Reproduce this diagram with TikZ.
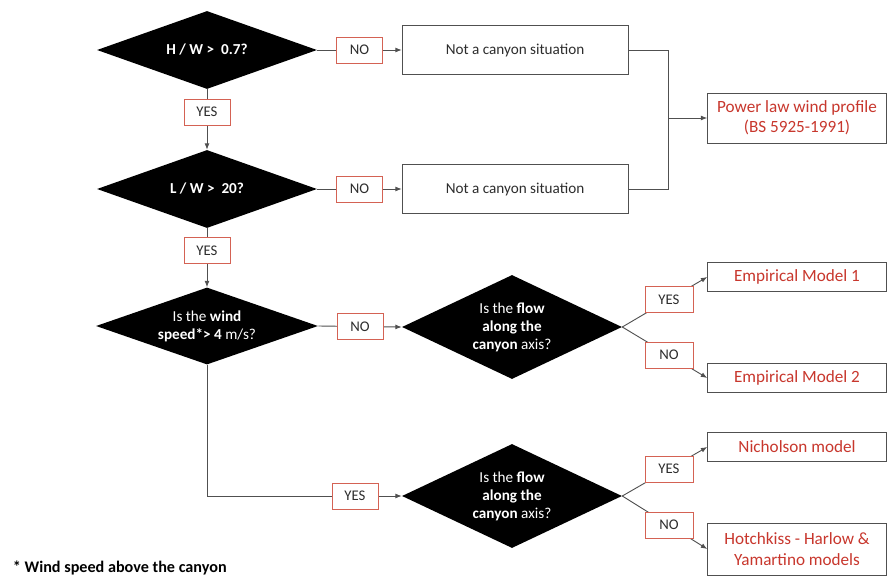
\documentclass[tikz,border=0pt]{standalone}
\usepackage{fontspec}
\setmainfont{Carlito}
\usepackage{tikz}
\usetikzlibrary{shapes.geometric}
\usetikzlibrary{arrows.meta}
\definecolor{modelred}{RGB}{200,55,45}
\definecolor{lblred}{RGB}{212,98,84}
\definecolor{boxgray}{RGB}{80,80,80}
\definecolor{txtgray}{RGB}{45,45,45}
\newdimen\pxu
\pxu=0.025cm

\begin{document}
\begin{tikzpicture}[x=0.025cm, y=-0.025cm,
    decide/.style={diamond, fill=black, text=white, aspect=2.2, inner sep=0pt, align=center,
        minimum width=220\pxu, minimum height=78\pxu, font=\fontsize{10.8}{12.8}\selectfont},
    canyonbox/.style={draw=boxgray, rectangle, fill=white, text=txtgray, align=center,
        minimum width=226\pxu, minimum height=49\pxu, font=\fontsize{10.8}{13}\selectfont},
    result/.style={draw=boxgray, rectangle, fill=white, text=modelred, align=center, inner sep=0pt,
        minimum width=179\pxu, minimum height=29\pxu, font=\fontsize{12.2}{14.5}\selectfont},
    lbl/.style={draw=lblred, rectangle, fill=white, text=txtgray, inner sep=0pt,
        minimum width=46\pxu, minimum height=26\pxu, font=\fontsize{10.5}{12}\selectfont},
    link/.style={draw=boxgray, line width=0.65pt},
    flow/.style={link, -{Latex[length=4.5pt, width=3.5pt]}}]
    \useasboundingbox (0,0) rectangle (888,578);

    \node[decide] (hw) at (207,50) {\textbf{H / W >\ \ 0.7?}};
    \node[canyonbox] (notA) at (515,50) {Not a canyon situation};
    \node[decide] (lw) at (207,189) {\textbf{L / W >\ \ 20?}};
    \node[canyonbox] (notB) at (515,189) {Not a canyon situation};
    \node[result, minimum height=50\pxu] (power) at (797,118) {Power law wind profile\\(BS 5925-1991)};
    \node[decide, minimum width=222\pxu, minimum height=77\pxu] (speed) at (207,326) {Is the \textbf{wind}\\\textbf{speed*> 4} m/s?};
    \node[decide, minimum height=104\pxu] (axisA) at (512,327) {Is the \textbf{flow}\\\textbf{along the}\\\textbf{canyon} axis?};
    \node[result] (empA) at (797,277) {Empirical Model 1};
    \node[result] (empB) at (797,378) {Empirical Model 2};
    \node[decide, minimum height=104\pxu] (axisB) at (512,496) {Is the \textbf{flow}\\\textbf{along the}\\\textbf{canyon} axis?};
    \node[result] (nich) at (797,447) {Nicholson model};
    \node[result, minimum height=52\pxu] (hotch) at (797,549) {Hotchkiss - Harlow \&\\Yamartino models};
    \node[anchor=west, text=black, font=\fontsize{11.5}{13}\selectfont\bfseries] (note) at (8,568) {* Wind speed above the canyon};

    % top part
    \draw[flow] (hw.east) -- node[lbl] (noA) {NO} (notA.west);
    \draw[flow] (hw.south) -- node[lbl, pos=0.38] (yesA) {YES} (lw.north);
    \draw[flow] (lw.east) -- node[lbl] (noB) {NO} (notB.west);
    \draw[flow] (lw.south) -- node[lbl, pos=0.38] (yesB) {YES} (speed.north);
    \coordinate (merge) at (668,118);
    \draw[link] (notA.east) -| (merge);
    \draw[link] (notB.east) -| (merge);
    \draw[flow] (merge) -- (power.west);

    % wind speed branches
    \draw[flow] (speed.east) -- node[lbl] (noC) {NO} (axisA.west);
    \draw[flow] (speed.south) |- node[lbl, pos=0.88] (yesC) {YES} (axisB.west);

    % flow direction branches
    \draw[flow] (axisA.east) -- node[lbl, pos=0.55, minimum width=48\pxu] (yesD) {YES} (empA.west);
    \draw[flow] (axisA.east) -- node[lbl, pos=0.55, minimum width=48\pxu] (noD) {NO} (empB.west);
    \draw[flow] (axisB.east) -- node[lbl, pos=0.55, minimum width=48\pxu] (yesE) {YES} (nich.west);
    \draw[flow] (axisB.east) -- node[lbl, pos=0.55, minimum width=48\pxu] (noE) {NO} (hotch.west);
\end{tikzpicture}
\end{document}
